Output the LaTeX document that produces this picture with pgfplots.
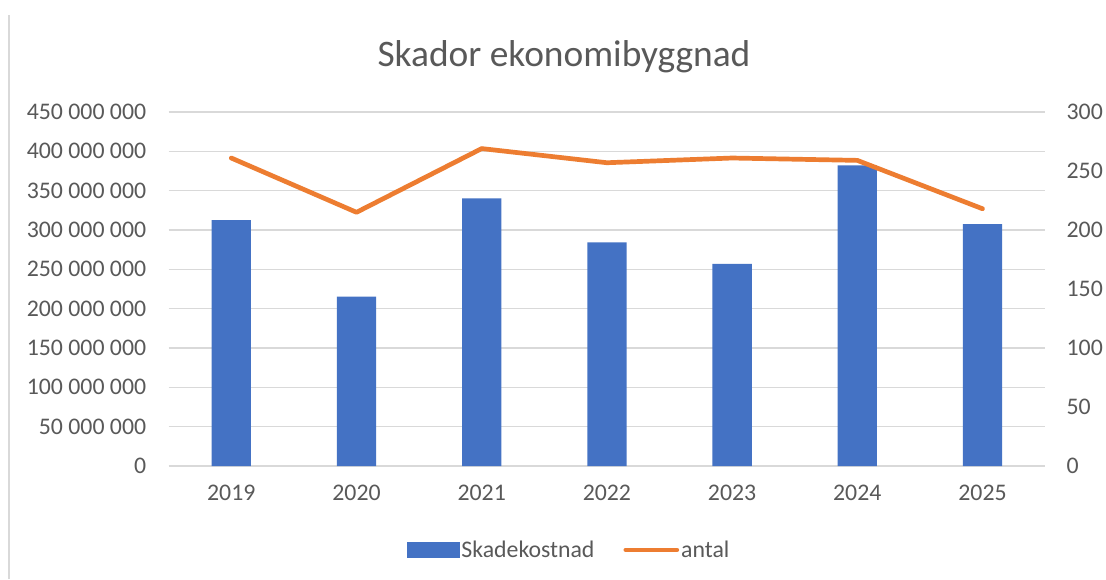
\documentclass[border=0pt]{standalone}
\usepackage{pgfplots}
\pgfplotsset{compat=1.18}
\usepackage{fontspec}
\setmainfont{Carlito}
\definecolor{txt}{HTML}{595959}
\definecolor{gridc}{HTML}{D9D9D9}
\definecolor{barblue}{HTML}{4472C4}
\definecolor{lineor}{HTML}{ED7D31}
\begin{document}
\begin{tikzpicture}[x=1pt,y=1pt]
\useasboundingbox (0,0) rectangle (1106,579);
\fill[white] (0,0) rectangle (1106,579);
\draw[gridc, line width=1.5pt] (9,0) -- (9,564);
\node[txt, font=\fontsize{37.4}{41}\selectfont] at (564,522) {Skador ekonomibyggnad};
\begin{axis}[
  at={(168.7pt,113pt)}, anchor=south west,
  scale only axis, width=876.4pt, height=354pt,
  xmin=-0.5, xmax=6.5, ymin=0, ymax=450000000,
  xtick={0,1,2,3,4,5,6},
  xticklabels={2019,2020,2021,2022,2023,2024,2025},
  ytick={0,50000000,100000000,150000000,200000000,250000000,300000000,350000000,400000000,450000000},
  yticklabels={0,50 000 000,100 000 000,150 000 000,200 000 000,250 000 000,300 000 000,350 000 000,400 000 000,450 000 000},
  scaled y ticks=false,
  axis line style={draw=none},
  major tick length=0pt,
  ymajorgrids, grid style={gridc, line width=1.5pt},
  tick label style={txt, font=\fontsize{23.8}{28}\selectfont},
  yticklabel style={xshift=-19pt},
  xticklabel style={yshift=-16pt},
  ybar, bar width=39.3pt,
]
\addplot[fill=barblue, draw=none, bar shift=0pt] coordinates {
(0,312700000) (1,215200000) (2,340300000) (3,284400000) (4,256800000) (5,382300000) (6,307600000)};
\end{axis}
\begin{axis}[
  at={(168.7pt,113pt)}, anchor=south west,
  scale only axis, width=876.4pt, height=354pt,
  xmin=-0.5, xmax=6.5, ymin=0, ymax=300,
  axis x line=none,
  axis y line*=right,
  axis line style={draw=none},
  major tick length=0pt,
  ytick={0,50,100,150,200,250,300},
  /pgf/number format/assume math mode=true,
  yticklabel style={txt, font=\fontsize{23.8}{28}\selectfont, xshift=18pt},
  legend style={draw=none, fill=none, at={(0.457,-0.237)}, anchor=center,
    font=\fontsize{23.8}{28}\selectfont, text=txt, legend columns=2,
    /tikz/every even column/.append style={column sep=27pt}},
  legend cell align=left,
]
\addlegendimage{legend image code/.code={\fill[barblue] (0pt,-7.5pt) rectangle (52pt,7.5pt);}}
\addlegendentry{Skadekostnad}
\addplot[lineor, line width=4.7pt, line cap=round, line join=round,
  legend image code/.code={\draw[lineor, line width=4.7pt, line cap=round] (2pt,0pt) -- (53pt,0pt);}]
  coordinates {(0,261) (1,215) (2,269) (3,257) (4,261) (5,259) (6,218)};
\addlegendentry{antal}
\end{axis}
\end{tikzpicture}
\end{document}
